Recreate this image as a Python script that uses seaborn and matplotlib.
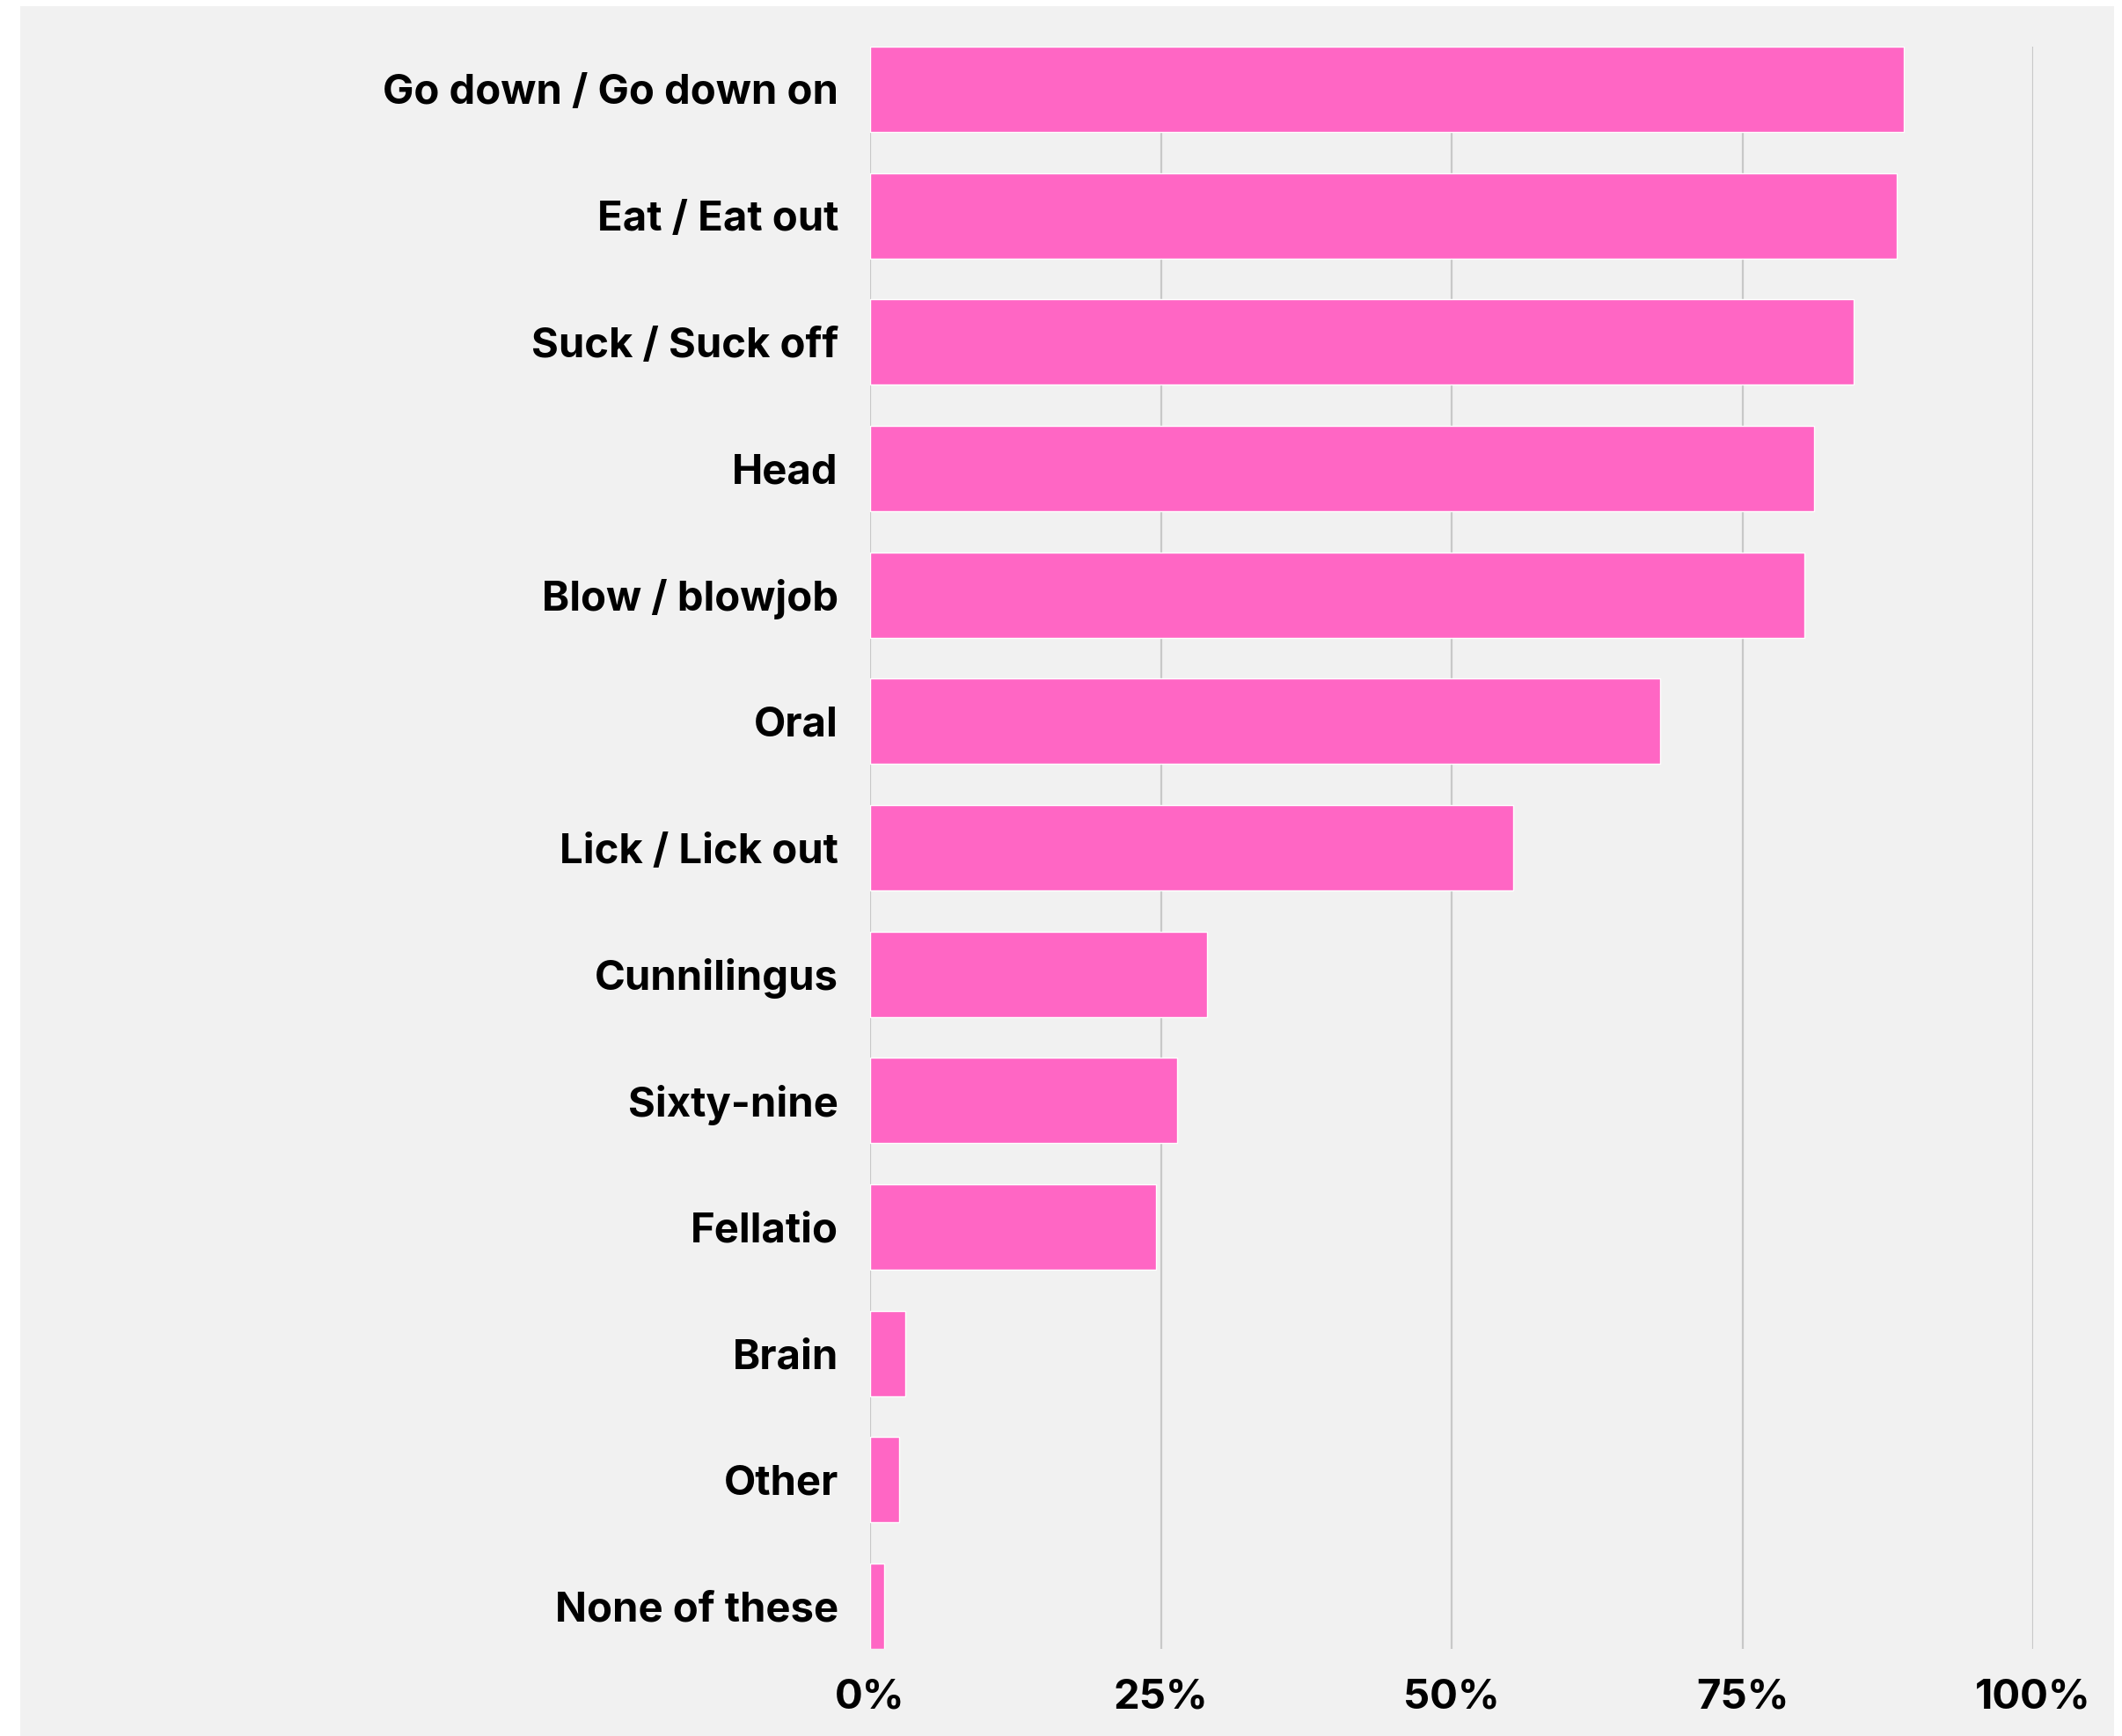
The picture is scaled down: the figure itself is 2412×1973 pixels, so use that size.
import matplotlib
matplotlib.use('Agg')
import matplotlib.pyplot as plt
import seaborn as sns
import pandas as pd
from matplotlib.patches import Rectangle
from matplotlib.ticker import FuncFormatter

# Data
terms = ['Go down / Go down on', 'Eat / Eat out', 'Suck / Suck off', 'Head',
         'Blow / blowjob', 'Oral', 'Lick / Lick out', 'Cunnilingus',
         'Sixty-nine', 'Fellatio', 'Brain', 'Other', 'None of these']
share = [88.9, 88.3, 84.6, 81.2, 80.3, 67.9, 55.3, 29.0, 26.4, 24.6, 3.0, 2.5, 1.2]
x_ticks = [0, 25, 50, 75, 100]

df = pd.DataFrame({'term': terms, 'share': share})

bg = '#f1f1f1'
pink = '#ff66c4'
grid = '#c8c8c8'

sns.set_theme(style='white')
plt.rcParams['font.family'] = ['Inter', 'DejaVu Sans']

W, H = 2412, 1973
fig = plt.figure(figsize=(W / 100, H / 100), dpi=100, facecolor='white')
# light grey card behind the chart
fig.patches.append(Rectangle((23 / W, 0), (2403 - 23) / W, 1 - 7 / H,
                             transform=fig.transFigure, facecolor=bg,
                             edgecolor='none', zorder=-10))

ax = fig.add_axes([989 / W, 1 - 1874 / H, (2311 - 989) / W, (1874 - 53) / H])
ax.set_facecolor(bg)

bw = 0.675
sns.barplot(data=df, x='share', y='term', color=pink, saturation=1,
            width=bw, ax=ax, zorder=3)

ax.set_xlim(0, 100)
ax.set_ylim(len(terms) - 1 + bw / 2, -bw / 2)
ax.set_xticks(x_ticks)
ax.xaxis.set_major_formatter(FuncFormatter(lambda v, p: f'{v:.0f}%'))
for v in x_ticks:
    ax.axvline(v, color=grid, lw=1.6, zorder=1)

for s in ax.spines.values():
    s.set_visible(False)
ax.tick_params(axis='both', length=0, labelsize=34, labelcolor='black')
ax.tick_params(axis='y', pad=26)
ax.tick_params(axis='x', pad=24)
for lbl in ax.get_xticklabels() + ax.get_yticklabels():
    lbl.set_fontweight('bold')
ax.set_xlabel('')
ax.set_ylabel('')

fig.savefig('out.png', dpi=100, facecolor='white')
